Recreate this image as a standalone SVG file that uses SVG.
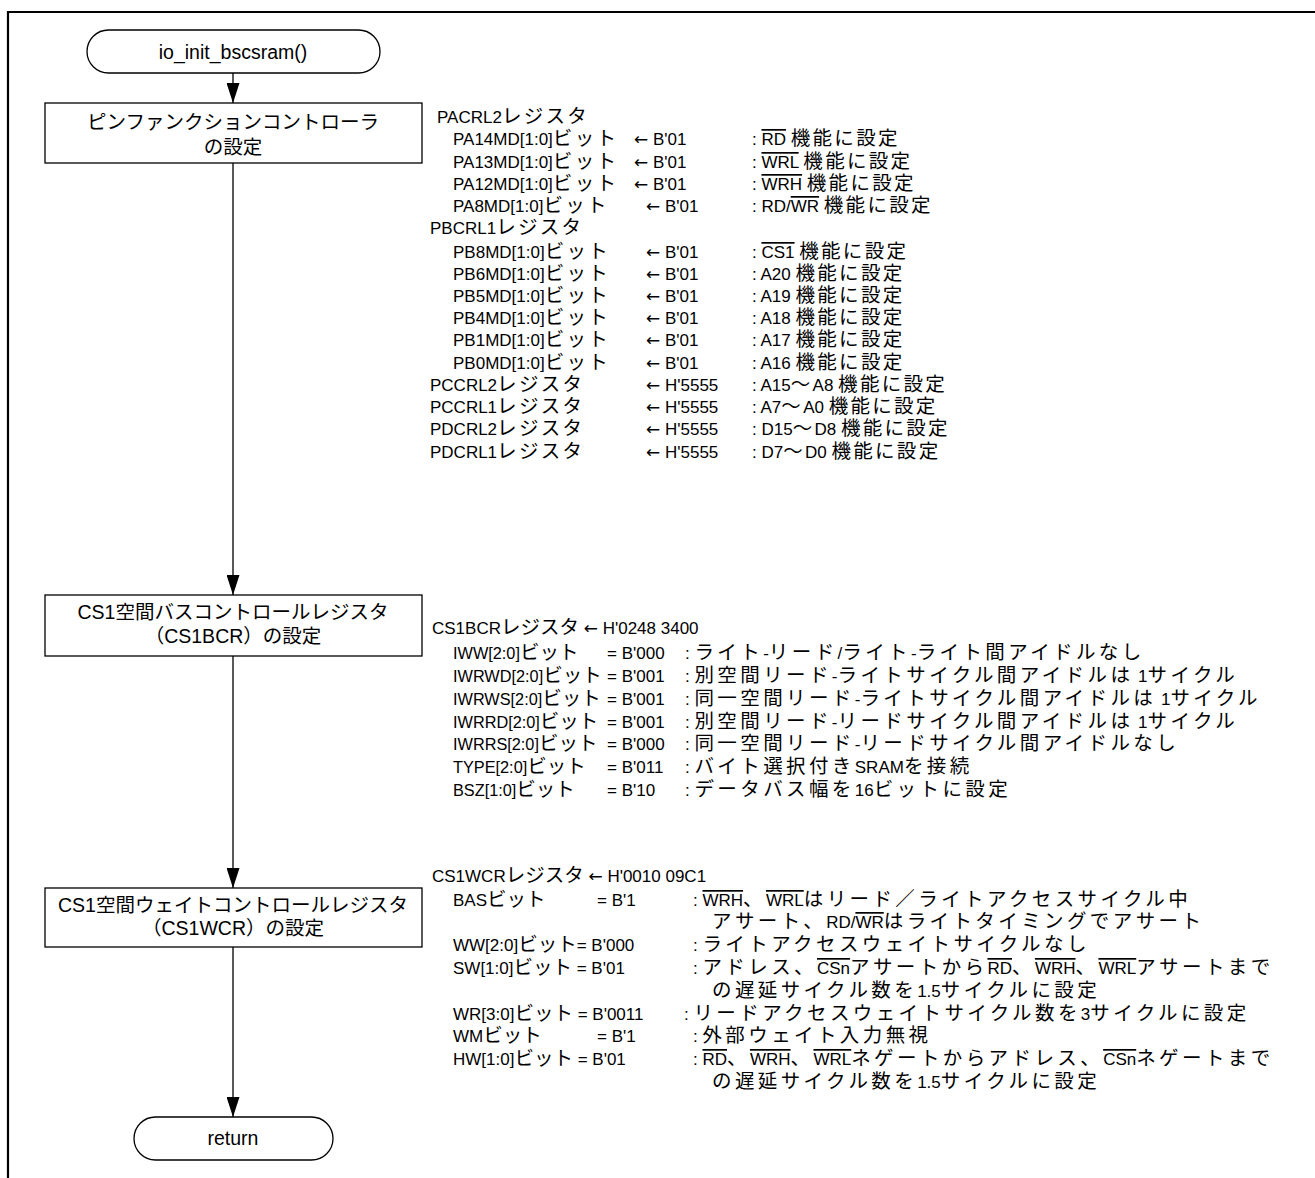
<svg xmlns="http://www.w3.org/2000/svg" width="1315" height="1178" viewBox="0 0 1315 1178">
<style>
text{font-family:"Liberation Sans","Noto Sans CJK JP",sans-serif;fill:#000;}
.b{font-size:19.5px;text-anchor:middle;}
.t{font-size:17px;}
.lb{font-size:16.3px;}
.j{font-size:19.5px;}
.ja{font-size:19.5px;letter-spacing:2.3px;}
.jb{font-size:19.5px;letter-spacing:3.4px;}
.ar{font-family:"DejaVu Sans",sans-serif;font-size:17px;}
.n{fill:#fff;stroke:#000;stroke-width:1.3;}
.c{stroke:#000;stroke-width:1.3;fill:none;}
.ov{text-decoration:overline;}
</style>
<defs>
<marker id="ah" markerWidth="20" markerHeight="13" refX="20" refY="6.5" orient="auto" markerUnits="userSpaceOnUse" viewBox="0 0 20 13">
<path d="M0,0 L20,6.5 L0,13 Z" fill="#000"/>
</marker>
</defs>
<g id="frame"><path d="M8,1178 V12 H1315" fill="none" stroke="#000" stroke-width="2.2"/></g>
<g id="connectors">
<line class="c" x1="233" y1="73" x2="233" y2="103" marker-end="url(#ah)"/>
<line class="c" x1="233" y1="163" x2="233" y2="595" marker-end="url(#ah)"/>
<line class="c" x1="233" y1="656" x2="233" y2="888" marker-end="url(#ah)"/>
<line class="c" x1="233" y1="947" x2="233" y2="1117" marker-end="url(#ah)"/>
</g>
<g id="start"><rect class="n" x="87" y="30" width="293" height="43" rx="21.5"/><text class="b" x="233" y="59">io_init_bscsram()</text></g>
<g id="pfc"><rect class="n" x="45" y="103" width="377" height="60"/><text class="b" x="233" y="129">ピンファンクションコントローラ</text><text class="b" x="233" y="154">の設定</text></g>
<g id="cs1bcr"><rect class="n" x="45" y="595" width="377" height="61"/><text class="b" x="233" y="619">CS1空間バスコントロールレジスタ</text><text class="b" x="233" y="643">（CS1BCR）の設定</text></g>
<g id="cs1wcr"><rect class="n" x="45" y="888" width="377" height="59"/><text class="b" x="233" y="912">CS1空間ウェイトコントロールレジスタ</text><text class="b" x="233" y="935">（CS1WCR）の設定</text></g>
<g id="ret"><rect class="n" x="134" y="1117" width="199" height="43" rx="21.5"/><text class="b" x="233" y="1145">return</text></g>
<g id="pfc-notes">
<text class="t" x="437" y="123">PACRL2<tspan class="ja">レジスタ</tspan></text>
<text class="t" y="145"><tspan x="453">PA14MD[1:0]</tspan><tspan class="ja">ビット</tspan><tspan x="634" class="ar">←</tspan><tspan> B'01</tspan><tspan x="752">: </tspan><tspan class="ov">RD</tspan><tspan> </tspan><tspan class="ja">機能に設定</tspan></text>
<text class="t" y="168"><tspan x="453">PA13MD[1:0]</tspan><tspan class="ja">ビット</tspan><tspan x="634" class="ar">←</tspan><tspan> B'01</tspan><tspan x="752">: </tspan><tspan class="ov">WRL</tspan><tspan> </tspan><tspan class="ja">機能に設定</tspan></text>
<text class="t" y="190"><tspan x="453">PA12MD[1:0]</tspan><tspan class="ja">ビット</tspan><tspan x="634" class="ar">←</tspan><tspan> B'01</tspan><tspan x="752">: </tspan><tspan class="ov">WRH</tspan><tspan> </tspan><tspan class="ja">機能に設定</tspan></text>
<text class="t" y="212"><tspan x="453">PA8MD[1:0]</tspan><tspan class="ja">ビット</tspan><tspan x="646" class="ar">←</tspan><tspan> B'01</tspan><tspan x="752">: RD/</tspan><tspan class="ov">WR</tspan><tspan> </tspan><tspan class="ja">機能に設定</tspan></text>
<text class="t" x="430" y="234">PBCRL1<tspan class="ja">レジスタ</tspan></text>
<text class="t" y="258"><tspan x="453">PB8MD[1:0]</tspan><tspan class="ja">ビット</tspan><tspan x="646" class="ar">←</tspan><tspan> B'01</tspan><tspan x="752">: </tspan><tspan class="ov">CS1</tspan><tspan> </tspan><tspan class="ja">機能に設定</tspan></text>
<text class="t" y="280"><tspan x="453">PB6MD[1:0]</tspan><tspan class="ja">ビット</tspan><tspan x="646" class="ar">←</tspan><tspan> B'01</tspan><tspan x="752">: A20 </tspan><tspan class="ja">機能に設定</tspan></text>
<text class="t" y="302"><tspan x="453">PB5MD[1:0]</tspan><tspan class="ja">ビット</tspan><tspan x="646" class="ar">←</tspan><tspan> B'01</tspan><tspan x="752">: A19 </tspan><tspan class="ja">機能に設定</tspan></text>
<text class="t" y="324"><tspan x="453">PB4MD[1:0]</tspan><tspan class="ja">ビット</tspan><tspan x="646" class="ar">←</tspan><tspan> B'01</tspan><tspan x="752">: A18 </tspan><tspan class="ja">機能に設定</tspan></text>
<text class="t" y="346"><tspan x="453">PB1MD[1:0]</tspan><tspan class="ja">ビット</tspan><tspan x="646" class="ar">←</tspan><tspan> B'01</tspan><tspan x="752">: A17 </tspan><tspan class="ja">機能に設定</tspan></text>
<text class="t" y="369"><tspan x="453">PB0MD[1:0]</tspan><tspan class="ja">ビット</tspan><tspan x="646" class="ar">←</tspan><tspan> B'01</tspan><tspan x="752">: A16 </tspan><tspan class="ja">機能に設定</tspan></text>
<text class="t" y="391"><tspan x="430">PCCRL2</tspan><tspan class="ja">レジスタ</tspan><tspan x="646" class="ar">←</tspan><tspan> H'5555</tspan><tspan x="752">: A15</tspan><tspan class="ja">～</tspan><tspan>A8 </tspan><tspan class="ja">機能に設定</tspan></text>
<text class="t" y="413"><tspan x="430">PCCRL1</tspan><tspan class="ja">レジスタ</tspan><tspan x="646" class="ar">←</tspan><tspan> H'5555</tspan><tspan x="752">: A7</tspan><tspan class="ja">～</tspan><tspan>A0 </tspan><tspan class="ja">機能に設定</tspan></text>
<text class="t" y="435"><tspan x="430">PDCRL2</tspan><tspan class="ja">レジスタ</tspan><tspan x="646" class="ar">←</tspan><tspan> H'5555</tspan><tspan x="752">: D15</tspan><tspan class="ja">～</tspan><tspan>D8 </tspan><tspan class="ja">機能に設定</tspan></text>
<text class="t" y="458"><tspan x="430">PDCRL1</tspan><tspan class="ja">レジスタ</tspan><tspan x="646" class="ar">←</tspan><tspan> H'5555</tspan><tspan x="752">: D7</tspan><tspan class="ja">～</tspan><tspan>D0 </tspan><tspan class="ja">機能に設定</tspan></text>
</g>
<g id="bcr-notes">
<text class="t" x="432" y="634">CS1BCR<tspan class="j">レジスタ</tspan><tspan> </tspan><tspan class="ar">←</tspan><tspan> H'0248 3400</tspan></text>
<text class="t" y="659"><tspan x="453" class="lb">IWW[2:0]</tspan><tspan class="j">ビット</tspan><tspan x="607">= B'000</tspan><tspan x="685">: </tspan><tspan class="jb">ライト</tspan><tspan>-</tspan><tspan class="jb">リード</tspan><tspan>/</tspan><tspan class="jb">ライト</tspan><tspan>-</tspan><tspan class="jb">ライト間アイドルなし</tspan></text>
<text class="t" y="682"><tspan x="453" class="lb">IWRWD[2:0]</tspan><tspan class="j">ビット</tspan><tspan x="607">= B'001</tspan><tspan x="685">: </tspan><tspan class="jb">別空間リード</tspan><tspan>-</tspan><tspan class="jb">ライトサイクル間アイドルは</tspan><tspan> 1</tspan><tspan class="jb">サイクル</tspan></text>
<text class="t" y="705"><tspan x="453" class="lb">IWRWS[2:0]</tspan><tspan class="j">ビット</tspan><tspan x="607">= B'001</tspan><tspan x="685">: </tspan><tspan class="jb">同一空間リード</tspan><tspan>-</tspan><tspan class="jb">ライトサイクル間アイドルは</tspan><tspan> 1</tspan><tspan class="jb">サイクル</tspan></text>
<text class="t" y="728"><tspan x="453" class="lb">IWRRD[2:0]</tspan><tspan class="j">ビット</tspan><tspan x="607">= B'001</tspan><tspan x="685">: </tspan><tspan class="jb">別空間リード</tspan><tspan>-</tspan><tspan class="jb">リードサイクル間アイドルは</tspan><tspan> 1</tspan><tspan class="jb">サイクル</tspan></text>
<text class="t" y="750"><tspan x="453" class="lb">IWRRS[2:0]</tspan><tspan class="j">ビット</tspan><tspan x="607">= B'000</tspan><tspan x="685">: </tspan><tspan class="jb">同一空間リード</tspan><tspan>-</tspan><tspan class="jb">リードサイクル間アイドルなし</tspan></text>
<text class="t" y="773"><tspan x="453" class="lb">TYPE[2:0]</tspan><tspan class="j">ビット</tspan><tspan x="607">= B'011</tspan><tspan x="685">: </tspan><tspan class="jb">バイト選択付き</tspan><tspan>SRAM</tspan><tspan class="jb">を接続</tspan></text>
<text class="t" y="796"><tspan x="453" class="lb">BSZ[1:0]</tspan><tspan class="j">ビット</tspan><tspan x="607">= B'10</tspan><tspan x="685">: </tspan><tspan class="jb">データバス幅を</tspan><tspan>16</tspan><tspan class="jb">ビットに設定</tspan></text>
</g>
<g id="wcr-notes">
<text class="t" x="432" y="882">CS1WCR<tspan class="j">レジスタ</tspan><tspan> </tspan><tspan class="ar">←</tspan><tspan> H'0010 09C1</tspan></text>
<text class="t" y="906"><tspan x="453">BAS</tspan><tspan class="j">ビット</tspan><tspan x="597">= B'1</tspan><tspan x="693">: </tspan><tspan class="ov">WRH</tspan><tspan class="jb">、</tspan><tspan class="ov">WRL</tspan><tspan class="jb">はリード／ライトアクセスサイクル中</tspan></text>
<text class="t" y="928"><tspan x="712" class="jb">アサート、</tspan><tspan>RD/</tspan><tspan class="ov">WR</tspan><tspan class="jb">はライトタイミングでアサート</tspan></text>
<text class="t" y="951"><tspan x="453">WW[2:0]</tspan><tspan class="j">ビット</tspan><tspan>= B'000</tspan><tspan x="693">: </tspan><tspan class="jb">ライトアクセスウェイトサイクルなし</tspan></text>
<text class="t" y="974"><tspan x="453">SW[1:0]</tspan><tspan class="j">ビット</tspan><tspan> = B'01</tspan><tspan x="693">: </tspan><tspan class="jb">アドレス、</tspan><tspan class="ov">CSn</tspan><tspan class="jb">アサートから</tspan><tspan class="ov">RD</tspan><tspan class="jb">、</tspan><tspan class="ov">WRH</tspan><tspan class="jb">、</tspan><tspan class="ov">WRL</tspan><tspan class="jb">アサートまで</tspan></text>
<text class="t" y="997"><tspan x="712" class="jb">の遅延サイクル数を</tspan><tspan>1.5</tspan><tspan class="jb">サイクルに設定</tspan></text>
<text class="t" y="1020"><tspan x="453">WR[3:0]</tspan><tspan class="j">ビット</tspan><tspan> = B'0011</tspan><tspan x="684">: </tspan><tspan class="jb">リードアクセスウェイトサイクル数を</tspan><tspan>3</tspan><tspan class="jb">サイクルに設定</tspan></text>
<text class="t" y="1042"><tspan x="453">WM</tspan><tspan class="j">ビット</tspan><tspan x="597">= B'1</tspan><tspan x="693">: </tspan><tspan class="jb">外部ウェイト入力無視</tspan></text>
<text class="t" y="1065"><tspan x="453">HW[1:0]</tspan><tspan class="j">ビット</tspan><tspan> = B'01</tspan><tspan x="693">: </tspan><tspan class="ov">RD</tspan><tspan class="jb">、</tspan><tspan class="ov">WRH</tspan><tspan class="jb">、</tspan><tspan class="ov">WRL</tspan><tspan class="jb">ネゲートからアドレス、</tspan><tspan class="ov">CSn</tspan><tspan class="jb">ネゲートまで</tspan></text>
<text class="t" y="1088"><tspan x="712" class="jb">の遅延サイクル数を</tspan><tspan>1.5</tspan><tspan class="jb">サイクルに設定</tspan></text>
</g>
</svg>
